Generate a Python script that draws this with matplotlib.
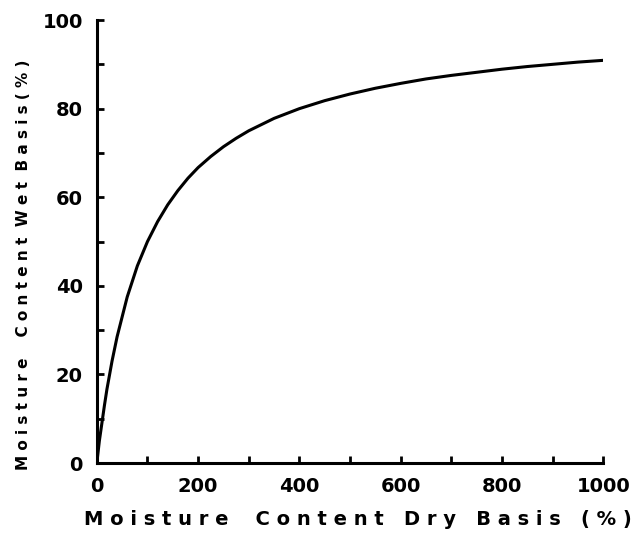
import matplotlib.pyplot as plt

# moisture content, dry basis (%) vs wet basis (%)
dry = [0, 2, 5, 10, 15, 20, 30, 40, 50, 60, 70, 80, 100, 120, 140, 160, 180, 200,
       225, 250, 275, 300, 350, 400, 450, 500, 550, 600, 650, 700, 750, 800, 850,
       900, 950, 1000]
wet = [0, 2, 5, 9, 13, 16.7, 23, 28.5, 33, 37.5, 41, 44.5, 50, 54.5, 58.3, 61.5,
       64.3, 66.7, 69.2, 71.4, 73.3, 75, 77.8, 80, 81.8, 83.3, 84.6, 85.7, 86.7,
       87.5, 88.2, 88.9, 89.5, 90, 90.5, 90.9]

fig = plt.figure(figsize=(6.37, 5.41), dpi=100)
ax = fig.add_axes([0.152, 0.144, 0.795, 0.819])

ax.plot(dry, wet, color="black", lw=2.2)

ax.set_xlim(0, 1000)
ax.set_ylim(0, 100)
ax.set_xticks(range(0, 1001, 100))
ax.set_xticklabels(["0", "", "200", "", "400", "", "600", "", "800", "", "1000"])
ax.set_yticks(range(0, 101, 10))
ax.set_yticklabels(["0", "", "20", "", "40", "", "60", "", "80", "", "100"])

for s in ["top", "right"]:
    ax.spines[s].set_visible(False)
for s in ["left", "bottom"]:
    ax.spines[s].set_linewidth(2.2)
ax.tick_params(direction="in", length=5, width=2, labelsize=14, pad=10)
for lab in ax.get_xticklabels() + ax.get_yticklabels():
    lab.set_fontweight("bold")

ax.set_xlabel("M o i s t u r e    C o n t e n t   D r y   B a s i s   ( % )",
              fontsize=14, fontweight="heavy", labelpad=10, x=0.515)
ax.set_ylabel("M o i s t u r e    C o n t e n t  W e t  B a s i s ( % )",
              fontsize=11, fontweight="heavy", labelpad=8, y=0.447)

fig.savefig("out.png", dpi=100)
